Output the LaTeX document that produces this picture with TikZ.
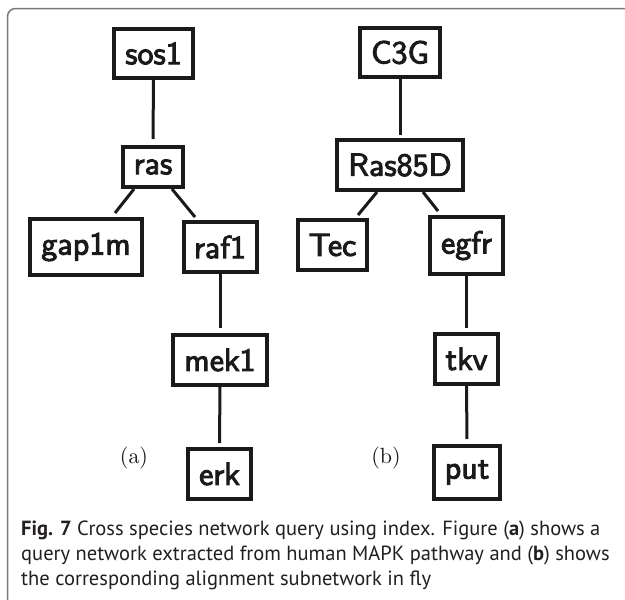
\documentclass[tikz,border=0pt]{standalone}
\usepackage{fontspec}
\newfontfamily\genefont{lmsans10-regular.otf}[FakeBold=3]
\newfontfamily\capfont{PT Sans}
\newfontfamily\tagfont{lmroman10-regular.otf}
\definecolor{ink}{HTML}{1A1A1A}
\definecolor{captext}{HTML}{231F20}
\definecolor{framegray}{HTML}{7A7A7A}
\tikzset{
  gene/.style={draw=ink, line width=4pt, inner sep=0pt, text=ink,
    font=\genefont\fontsize{32}{38}\selectfont},
  link/.style={draw=ink, line width=3pt},
  tag/.style={text=ink, inner sep=0pt, font=\tagfont\fontsize{22}{26}\selectfont},
  capline/.style={anchor=base west, inner sep=0pt, text=captext,
    font=\capfont\fontsize{20.5}{25}\selectfont}
}
\begin{document}
\begin{tikzpicture}[x=1pt,y=-1pt]
\useasboundingbox (0,0) rectangle (625,600);
\fill[white] (0,0) rectangle (625,600);
% panel frame, open to the right and bottom
\draw[framegray, line width=1.5pt, rounded corners=8pt] (7.5,600) -- (7.5,8.5) -- (625,8.5);

% (a) human query network
\node[gene, minimum width=79pt, minimum height=49pt] (sos1)  at (153.5,53.5) {sos1};
\node[gene, minimum width=60pt, minimum height=40pt] (ras)   at (153,167)   {ras};
\node[gene, minimum width=112pt, minimum height=56pt] (gap1m) at (86,247)    {gap1m};
\node[gene, minimum width=73pt, minimum height=50pt] (raf1)  at (220,247)   {raf1};
\node[gene, minimum width=94pt, minimum height=50pt] (mek1)  at (220,360)   {mek1};
\node[gene, minimum width=63pt, minimum height=50pt] (erk)   at (219.5,474) {erk};
\node[tag] (taga) at (134,458) {(a)};

\draw[link] (sos1.south) -- ([yshift=6pt]ras.north);
\draw[link] ([xshift=-19pt]ras.south) -- ([xshift=29pt,yshift=4pt]gap1m.north);
\draw[link] ([xshift=19pt]ras.south) -- ([xshift=-25pt,yshift=3pt]raf1.north);
\draw[link] (raf1.south) -- ([yshift=5pt]mek1.north);
\draw[link] (mek1.south) -- ([yshift=4pt]erk.north);

% (b) fly alignment subnetwork
\node[gene, minimum width=80pt, minimum height=49pt] (c3g)    at (400,52.5)  {C3G};
\node[gene, minimum width=126pt, minimum height=50pt] (ras85d) at (400,165)   {Ras85D};
\node[gene, minimum width=69pt, minimum height=50pt] (tec)    at (332.5,245) {Tec};
\node[gene, minimum width=73pt, minimum height=57pt] (egfr)   at (466.5,245.5) {egfr};
\node[gene, minimum width=63pt, minimum height=50pt] (tkv)    at (466.5,359) {tkv};
\node[gene, minimum width=66pt, minimum height=53pt] (put)    at (467,472.5) {put};
\node[tag] (tagb) at (386,458) {(b)};

\draw[link] (c3g.south) -- ([yshift=3pt]ras85d.north);
\draw[link] ([xshift=-23pt]ras85d.south) -- ([xshift=25.5pt,yshift=3pt]tec.north);
\draw[link] ([xshift=23pt]ras85d.south) -- ([xshift=-28.5pt,yshift=4pt]egfr.north);
\draw[link] (egfr.south) -- ([yshift=4pt]tkv.north);
\draw[link] (tkv.south) -- ([yshift=5pt]put.north);

% caption
\node[capline] (cap1) at (21,535) {\textbf{Fig. 7} Cross species network query using index. Figure (\textbf{a}) shows a};
\node[capline] (cap2) at (21,560) {query network extracted from human MAPK pathway and (\textbf{b}) shows};
\node[capline] (cap3) at (21,585) {the corresponding alignment subnetwork in fly};
\end{tikzpicture}
\end{document}
